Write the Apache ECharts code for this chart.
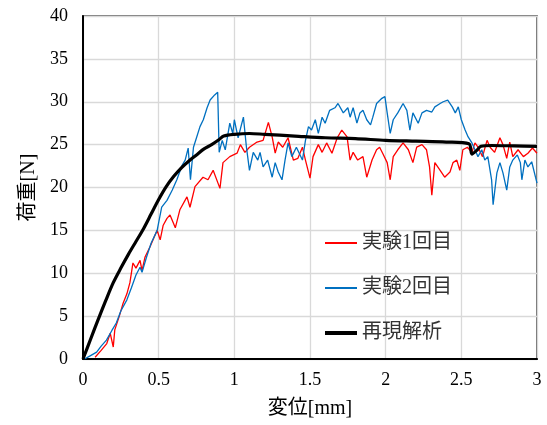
<!DOCTYPE html>
<html>
<head>
<meta charset="utf-8">
<script src="https://cdn.jsdelivr.net/npm/echarts@6/dist/echarts.min.js"></script>
<style>
  html, body { margin: 0; padding: 0; background: #fff; }
  #chart { width: 547px; height: 425px; }
</style>
</head>
<body>
<div id="chart"></div>
<script>
// 凡例名
const seriesNames = ['実験1回目', '実験2回目', '再現解析']
const xTicks = [0, 0.5, 1, 1.5, 2, 2.5, 3]
const yTicks = [0, 5, 10, 15, 20, 25, 30, 35, 40]

// 実験1回目 (変位, 荷重)
const exp1X = [0.08, 0.12, 0.157, 0.18, 0.2, 0.21, 0.24, 0.265, 0.29, 0.31, 0.33, 0.35, 0.377, 0.39, 0.41, 0.443, 0.47, 0.49, 0.51, 0.53, 0.555, 0.575, 0.61, 0.64, 0.687, 0.707, 0.74, 0.793, 0.826, 0.86, 0.905, 0.925, 0.97, 1.018, 1.04, 1.07, 1.1, 1.15, 1.19, 1.225, 1.25, 1.27, 1.29, 1.32, 1.355, 1.39, 1.42, 1.45, 1.47, 1.5, 1.52, 1.555, 1.58, 1.61, 1.645, 1.68, 1.71, 1.745, 1.765, 1.785, 1.815, 1.85, 1.875, 1.91, 1.94, 1.96, 1.98, 2.01, 2.03, 2.05, 2.08, 2.115, 2.15, 2.18, 2.205, 2.24, 2.27, 2.29, 2.305, 2.325, 2.36, 2.39, 2.425, 2.445, 2.47, 2.49, 2.51, 2.54, 2.57, 2.59, 2.61, 2.64, 2.67, 2.69, 2.72, 2.755, 2.775, 2.8, 2.82, 2.84, 2.875, 2.91, 2.94, 2.97, 3.0]
const exp1Y = [0.2, 1.0, 1.8, 3.0, 1.4, 3.4, 5.0, 6.5, 7.6, 8.9, 11.2, 10.6, 11.5, 10.3, 11.9, 13.1, 14.2, 15.0, 13.9, 15.6, 16.4, 16.8, 15.3, 17.4, 18.9, 17.7, 20.1, 21.2, 20.9, 22.0, 19.9, 22.9, 23.6, 24.0, 25.0, 24.1, 24.7, 25.3, 25.5, 27.6, 25.9, 24.0, 25.3, 24.7, 25.8, 23.2, 23.4, 24.7, 23.2, 21.1, 23.6, 25.0, 24.1, 25.2, 24.0, 25.8, 26.7, 25.9, 23.2, 24.1, 23.2, 23.6, 21.2, 23.2, 24.4, 24.7, 24.0, 22.9, 20.9, 23.6, 24.4, 25.2, 24.4, 22.9, 24.7, 25.0, 24.4, 22.4, 19.1, 22.9, 22.0, 21.2, 21.8, 22.9, 23.2, 22.0, 24.4, 24.7, 24.1, 25.2, 24.7, 23.6, 25.5, 24.7, 24.1, 25.8, 25.0, 23.4, 25.3, 23.6, 24.4, 23.6, 24.0, 24.6, 24.0]

// 実験2回目
const exp2X = [0.01, 0.05, 0.09, 0.12, 0.155, 0.19, 0.22, 0.25, 0.29, 0.32, 0.35, 0.377, 0.39, 0.42, 0.45, 0.49, 0.52, 0.555, 0.59, 0.62, 0.655, 0.675, 0.695, 0.71, 0.73, 0.75, 0.773, 0.795, 0.82, 0.84, 0.87, 0.89, 0.9, 0.92, 0.94, 0.97, 0.99, 1.0, 1.025, 1.06, 1.08, 1.1, 1.125, 1.155, 1.17, 1.19, 1.22, 1.25, 1.27, 1.29, 1.315, 1.335, 1.355, 1.38, 1.41, 1.45, 1.47, 1.49, 1.51, 1.535, 1.555, 1.58, 1.6, 1.63, 1.665, 1.685, 1.72, 1.75, 1.765, 1.785, 1.81, 1.83, 1.85, 1.875, 1.9, 1.915, 1.94, 1.975, 1.995, 2.01, 2.03, 2.05, 2.08, 2.115, 2.14, 2.16, 2.18, 2.215, 2.24, 2.27, 2.305, 2.325, 2.36, 2.38, 2.41, 2.44, 2.46, 2.48, 2.5, 2.525, 2.545, 2.57, 2.59, 2.61, 2.635, 2.655, 2.675, 2.7, 2.71, 2.735, 2.755, 2.775, 2.8, 2.82, 2.84, 2.87, 2.89, 2.9, 2.92, 2.94, 2.965, 2.99, 3.0]
const exp2Y = [0, 0.4, 0.8, 1.5, 2.2, 3.3, 4.2, 5.6, 6.9, 8.3, 9.8, 10.7, 10.1, 11.9, 13.5, 15.0, 17.7, 18.5, 19.7, 20.9, 22.6, 23.2, 24.6, 20.9, 24.7, 25.8, 27.1, 27.9, 29.3, 30.2, 30.8, 31.1, 24.1, 25.5, 24.4, 27.5, 26.3, 27.9, 25.8, 28.2, 24.7, 22.0, 24.1, 23.2, 24.1, 22.4, 23.2, 21.2, 22.9, 21.8, 20.9, 23.2, 25.2, 23.6, 24.7, 23.2, 25.5, 27.1, 26.7, 27.9, 26.3, 28.2, 27.5, 29.0, 29.3, 29.8, 28.7, 29.3, 28.2, 29.3, 27.5, 28.7, 29.0, 27.9, 27.3, 28.2, 29.8, 30.4, 30.6, 28.7, 26.3, 27.9, 28.7, 29.8, 29.0, 26.7, 28.7, 27.5, 28.7, 29.0, 28.8, 29.4, 29.8, 30.0, 30.2, 29.4, 28.7, 29.4, 27.9, 26.7, 25.9, 25.2, 24.4, 23.6, 24.4, 23.2, 23.6, 20.9, 18.0, 21.7, 22.9, 21.7, 19.7, 22.4, 23.2, 23.8, 22.9, 20.9, 23.2, 22.4, 23.0, 21.2, 20.5]

// 再現解析
const simX = [0, 0.05, 0.1, 0.15, 0.2, 0.25, 0.3, 0.35, 0.4, 0.45, 0.5, 0.55, 0.6, 0.65, 0.7, 0.75, 0.8, 0.85, 0.9, 0.93, 1.0, 1.1, 1.2, 1.4, 1.6, 1.8, 2.0, 2.2, 2.4, 2.55, 2.57, 2.6, 2.63, 2.7, 2.85, 3.0]
const simY = [0, 2.3, 4.6, 6.8, 8.9, 10.6, 12.2, 13.7, 15.2, 16.9, 18.6, 20.1, 21.3, 22.3, 23.1, 23.8, 24.5, 25.0, 25.6, 26.0, 26.2, 26.3, 26.2, 26.0, 25.8, 25.7, 25.5, 25.4, 25.3, 25.1, 23.9, 24.3, 24.8, 24.9, 24.85, 24.8]

const pairs = (xs, ys) => xs.map((x, i) => [x, ys[i]])

const tickFont = { fontFamily: 'Liberation Serif', fontSize: 18, color: '#000' }
const nameFont = { fontFamily: "'Liberation Serif', 'Noto Sans CJK JP'", fontSize: 20, color: '#000' }

// 凡例アイコン (細線 / 太線)
const thinIcon = 'path://M0,0h32v2h-32z'
const thickIcon = 'path://M0,0h32v4h-32z'

const myChart = echarts.init(document.getElementById('chart'))
const option = {
  animation: false,
  backgroundColor: '#fff',
  grid: {
    left: 83,
    right: 10,
    top: 16,
    bottom: 66,
    show: true,
    borderColor: '#404040',
    borderWidth: 1.5
  },
  legend: {
    orient: 'vertical',
    left: 325,
    top: 233,
    padding: 0,
    itemWidth: 32,
    itemHeight: 14,
    itemGap: 25,
    textStyle: { fontFamily: "'Liberation Serif', 'Noto Sans CJK JP'", fontSize: 20, color: '#333' },
    data: [
      { name: seriesNames[0], icon: thinIcon },
      { name: seriesNames[1], icon: thinIcon },
      { name: seriesNames[2], icon: thickIcon }
    ]
  },
  xAxis: {
    type: 'value',
    min: xTicks[0],
    max: xTicks[xTicks.length - 1],
    interval: 0.5,
    name: '変位[mm]',
    nameLocation: 'middle',
    nameGap: 40,
    nameTextStyle: nameFont,
    axisLine: { lineStyle: { color: '#000', width: 2 } },
    axisTick: { show: false },
    axisLabel: { ...tickFont, margin: 12 },
    splitLine: { lineStyle: { color: '#d9d9d9', width: 1.3 } }
  },
  yAxis: {
    type: 'value',
    min: yTicks[0],
    max: yTicks[yTicks.length - 1],
    interval: 5,
    name: '荷重[N]',
    nameLocation: 'middle',
    nameRotate: 90,
    nameGap: 43,
    nameTextStyle: nameFont,
    axisLine: { show: true, lineStyle: { color: '#000', width: 2 } },
    axisTick: { show: false },
    axisLabel: { ...tickFont, margin: 15 },
    splitLine: { lineStyle: { color: '#d9d9d9', width: 1.3 } }
  },
  series: [
    {
      name: seriesNames[0],
      type: 'line',
      symbol: 'none',
      lineStyle: { color: '#ff0000', width: 1.3 },
      itemStyle: { color: '#ff0000' },
      data: pairs(exp1X, exp1Y)
    },
    {
      name: seriesNames[1],
      type: 'line',
      symbol: 'none',
      lineStyle: { color: '#0070c0', width: 1.3 },
      itemStyle: { color: '#0070c0' },
      data: pairs(exp2X, exp2Y)
    },
    {
      name: seriesNames[2],
      type: 'line',
      symbol: 'none',
      smooth: 0.3,
      lineStyle: { color: '#000', width: 3.2 },
      itemStyle: { color: '#000' },
      data: pairs(simX, simY)
    }
  ]
}
myChart.setOption(option)
</script>
</body>
</html>
